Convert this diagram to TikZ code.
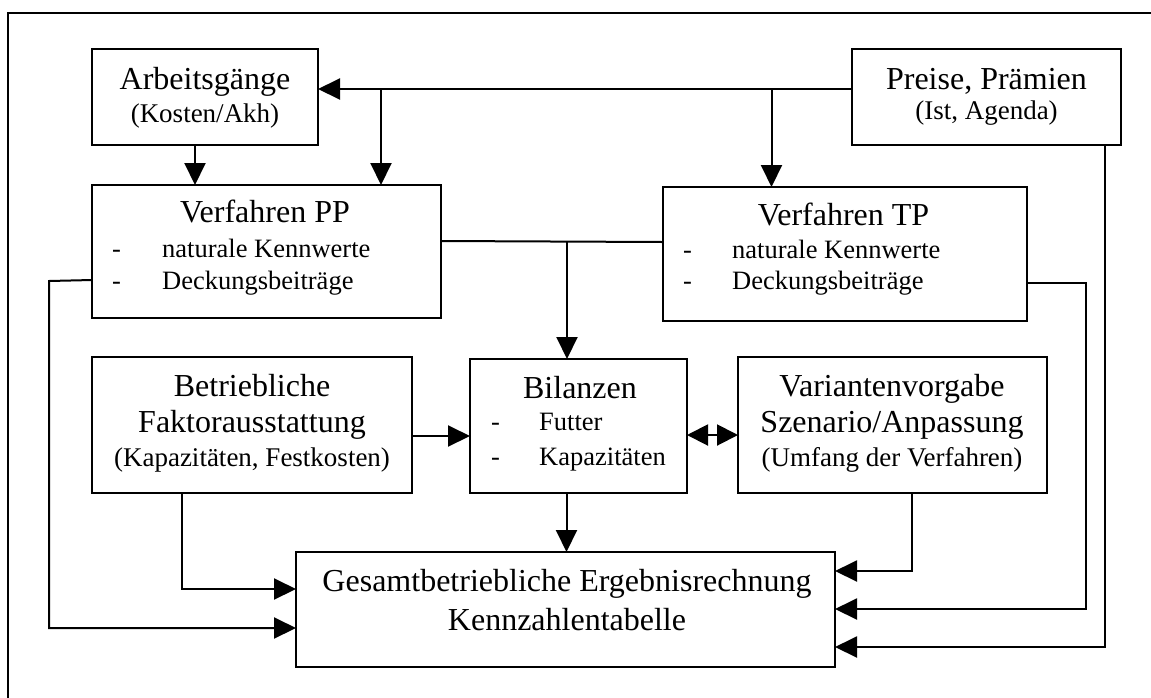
\documentclass[tikz,border=0pt]{standalone}
\usepackage{fontspec}
\setmainfont{Liberation Serif}
\usetikzlibrary{arrows.meta}
\tikzset{
  box/.style={draw, rectangle, line width=2pt, inner sep=0pt, outer sep=0pt},
  ttl/.style={anchor=base, inner sep=0pt, font=\fontsize{32}{38}\selectfont},
  sub/.style={anchor=base, inner sep=0pt, font=\fontsize{27}{32}\selectfont},
  itm/.style={anchor=base west, inner sep=0pt, font=\fontsize{26.5}{32}\selectfont},
  dsh/.style={anchor=base, inner sep=0pt, font=\fontsize{26.5}{32}\selectfont},
  conn/.style={line width=2pt, line join=miter},
  arr/.style={conn, -{Triangle[length=22pt,width=21pt]}},
  darr/.style={conn, {Triangle[length=21pt,width=21pt]}-{Triangle[length=21pt,width=21pt]}},
}
\begin{document}
\begin{tikzpicture}[x=1pt, y=-1pt]
\useasboundingbox (0,0) rectangle (1151,697);
% outer frame (cut at the picture's right and bottom edges)
\draw[conn] (8,705) -- (8,13) -- (1160,13);

% boxes
\node[box, minimum width=226pt, minimum height=96pt] (arb) at (205,97) {};
\node[box, minimum width=269pt, minimum height=96pt] (pre) at (986.5,97) {};
\node[box, minimum width=349pt, minimum height=133pt] (pp) at (266.5,251.5) {};
\node[box, minimum width=364pt, minimum height=134pt] (tp) at (845,254) {};
\node[box, minimum width=320pt, minimum height=136pt] (bet) at (252,425) {};
\node[box, minimum width=217pt, minimum height=134pt] (bil) at (578.5,426) {};
\node[box, minimum width=309pt, minimum height=136pt] (var) at (892.5,425) {};
\node[box, minimum width=539pt, minimum height=115pt] (ges) at (565.5,609.5) {};

% texts
\node[ttl] (arbT) at (205,89) {Arbeitsgänge};
\node[sub] (arbS) at (205,122) {(Kosten/Akh)};
\node[ttl] (preT) at (986.5,89) {Preise, Prämien};
\node[sub] (preS) at (986.5,119) {(Ist, Agenda)};

\node[ttl] (ppT) at (265,222) {Verfahren PP};
\node[dsh] (ppD1) at (116.5,257) {-};
\node[itm] (ppI1) at (162,257) {naturale Kennwerte};
\node[dsh] (ppD2) at (116.5,289) {-};
\node[itm] (ppI2) at (162,289) {Deckungsbeiträge};

\node[ttl] (tpT) at (843.5,225) {Verfahren TP};
\node[dsh] (tpD1) at (687.5,258) {-};
\node[itm] (tpI1) at (732,258) {naturale Kennwerte};
\node[dsh] (tpD2) at (687.5,289) {-};
\node[itm] (tpI2) at (732,289) {Deckungsbeiträge};

\node[ttl] (betT1) at (252,396) {Betriebliche};
\node[ttl] (betT2) at (252,432) {Faktorausstattung};
\node[sub] (betS) at (252,466) {(Kapazitäten, Festkosten)};

\node[ttl] (bilT) at (580,398) {Bilanzen};
\node[dsh] (bilD1) at (495.5,430) {-};
\node[itm] (bilI1) at (539,430) {Futter};
\node[dsh] (bilD2) at (495.5,465) {-};
\node[itm] (bilI2) at (539,465) {Kapazitäten};

\node[ttl] (varT1) at (892,396) {Variantenvorgabe};
\node[ttl] (varT2) at (892,432) {Szenario/Anpassung};
\node[sub] (varS) at (892,466) {(Umfang der Verfahren)};

\node[ttl] (gesT1) at (567,591) {Gesamtbetriebliche Ergebnisrechnung};
\node[ttl] (gesT2) at (567,630) {Kennzahlentabelle};

% junction points
\coordinate (j1) at (381,89);
\coordinate (j2) at (771.5,89);
\coordinate (j3) at (567,241.5);
\coordinate (c1) at (49,281);
\coordinate (c2) at (1086,283);

% connectors
\draw[arr] (pre.west |- 0,89) -- (arb.east |- 0,89);
\draw[arr] (j1) -- (j1 |- pp.north);
\draw[arr] (j2) -- (j2 |- tp.north);
\draw[arr] (arb.south -| 195,0) -- (pp.north -| 195,0);
\draw[conn] (pp.east |- 0,241) -- (tp.west |- 0,242);
\draw[arr] (j3) -- (j3 |- bil.north);
\draw[arr] (pp.west |- 0,280) -- (c1) -- (c1 |- 0,628) -- (ges.west |- 0,628);
\draw[arr] (bet.south -| 182,0) |- (ges.west |- 0,589);
\draw[arr] (bet.east |- 0,436) -- (bil.west |- 0,436);
\draw[darr] (bil.east |- 0,435) -- (var.west |- 0,435);
\draw[arr] (bil.south -| 566.5,0) -- (ges.north -| 566.5,0);
\draw[arr] (var.south -| 912,0) |- (ges.east |- 0,571);
\draw[arr] (tp.east |- 0,283) -- (c2) -- (c2 |- 0,609) -- (ges.east |- 0,609);
\draw[arr] (pre.south -| 1105,0) |- (ges.east |- 0,647);
\end{tikzpicture}
\end{document}
